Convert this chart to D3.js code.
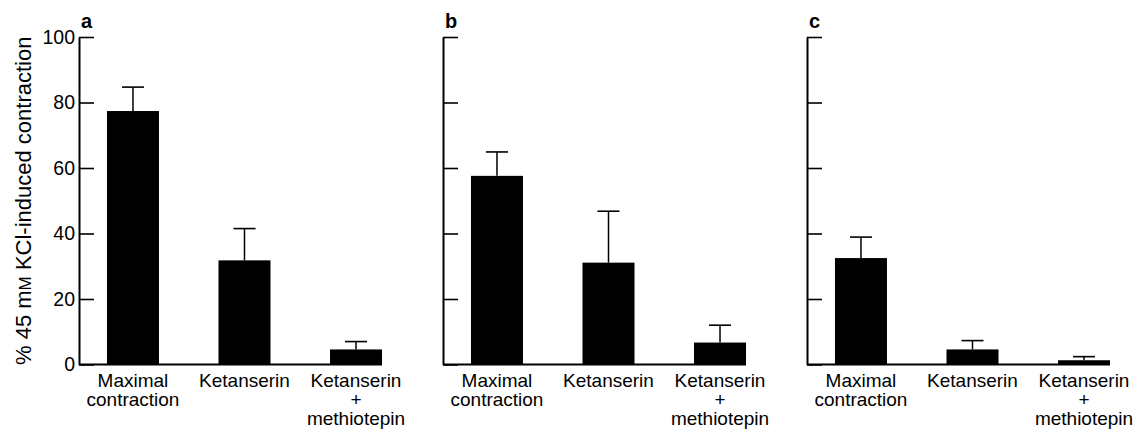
<!DOCTYPE html>
<html>
<head>
<meta charset="utf-8">
<script src="https://cdn.jsdelivr.net/npm/d3@7"></script>
<style>
  body { margin: 0; background: #fff; }
  text { font-family: "Liberation Sans", Arial, Helvetica, sans-serif; fill: #000; }
</style>
</head>
<body>
<script>
// data
var panelLabels = ["a", "b", "c"];
var categories = ["Maximal contraction", "Ketanserin", "Ketanserin + methiotepin"];
var categoryLines = [["Maximal", "contraction"], ["Ketanserin"], ["Ketanserin", "+", "methiotepin"]];
var yTicks = [0, 20, 40, 60, 80, 100];

var meansA = [77.4, 31.8, 4.6];
var semA = [7.3, 9.7, 2.4];
var meansB = [57.6, 31.1, 6.7];
var semB = [7.3, 15.7, 5.3];
var meansC = [32.5, 4.6, 1.3];
var semC = [6.4, 2.7, 1.1];

var means = [meansA, meansB, meansC];
var sems = [semA, semB, semC];

//Width and height
var w = 1137;
var h = 433;

var axis_left = 79;      // x of the first y axis
var panel_step = 364;    // distance between panels
var panel_width = 331;
var bar_width = 52;
var y_top = 37;
var y_bottom = 364.5;

var svg = d3.select("body")
	.append("svg")
	.attr("width", w)
	.attr("height", h);

var y = d3.scaleLinear()
	.domain([0, 100])
	.range([y_bottom, y_top]);

panelLabels.forEach(function(label, p) {

	var x0 = axis_left + p * panel_step;

	var x = d3.scalePoint()
		.domain(categories)
		.range([0, panel_width])
		.padding(0.484);

	var g = svg.append("g")
		.attr("transform", "translate(" + x0 + ",0)");

	var rows = categories.map(function(c, i) {
		return { cat: c, mean: means[p][i], sem: sems[p][i], lines: categoryLines[i] };
	});

	// Y AXIS (ticks point inwards)
	var yAxis = d3.axisLeft(y)
		.tickValues(yTicks)
		.tickSize(-15)
		.tickSizeOuter(0)
		.tickPadding(4);
	if (p > 0) yAxis.tickFormat("");

	var ay = g.append("g").call(yAxis);
	ay.select(".domain").attr("stroke", "#000").attr("stroke-width", 2);
	ay.selectAll(".tick line").attr("stroke", "#000").attr("stroke-width", 1.6);
	ay.selectAll(".tick text")
		.attr("font-family", "Liberation Sans, Arial, sans-serif")
		.attr("font-size", "19.5px")
		.attr("fill", "#000");

	// BASELINE
	g.append("line")
		.attr("x1", 0)
		.attr("x2", x(categories[2]) + bar_width / 2)
		.attr("y1", y(0))
		.attr("y2", y(0))
		.attr("stroke", "#000")
		.attr("stroke-width", 2);

	// ERROR BARS
	g.selectAll(".err")
		.data(rows)
		.enter()
		.append("line")
		.attr("class", "err")
		.attr("x1", function(d) { return x(d.cat); })
		.attr("x2", function(d) { return x(d.cat); })
		.attr("y1", function(d) { return y(d.mean); })
		.attr("y2", function(d) { return y(d.mean + d.sem); })
		.attr("stroke", "#000")
		.attr("stroke-width", 1.5);

	g.selectAll(".cap")
		.data(rows)
		.enter()
		.append("line")
		.attr("class", "cap")
		.attr("x1", function(d) { return x(d.cat) - 11; })
		.attr("x2", function(d) { return x(d.cat) + 11; })
		.attr("y1", function(d) { return y(d.mean + d.sem); })
		.attr("y2", function(d) { return y(d.mean + d.sem); })
		.attr("stroke", "#000")
		.attr("stroke-width", 1.6);

	// BARS
	g.selectAll(".bar")
		.data(rows)
		.enter()
		.append("rect")
		.attr("class", "bar")
		.attr("x", function(d) { return x(d.cat) - bar_width / 2; })
		.attr("width", bar_width)
		.attr("y", function(d) { return y(d.mean); })
		.attr("height", function(d) { return y(0) - y(d.mean); })
		.attr("fill", "#000");

	// CATEGORY LABELS
	var lab = g.selectAll(".catlabel")
		.data(rows)
		.enter()
		.append("text")
		.attr("class", "catlabel")
		.attr("text-anchor", "middle")
		.attr("font-size", "19px");

	lab.selectAll("tspan")
		.data(function(d) { return d.lines.map(function(t) { return { t: t, cx: x(d.cat) }; }); })
		.enter()
		.append("tspan")
		.attr("x", function(d) { return d.cx; })
		.attr("y", function(d, i) { return 387 + i * 19; })
		.text(function(d) { return d.t; });

	// PANEL LETTER
	g.append("text")
		.attr("x", 2)
		.attr("y", 28)
		.attr("font-size", "20px")
		.attr("font-weight", "bold")
		.text(label);
});

// Y AXIS TITLE
var title = svg.append("text")
	.attr("transform", "translate(31," + (y_bottom + y_top) / 2 + ") rotate(-90)")
	.attr("text-anchor", "middle")
	.attr("font-size", "22px");
title.append("tspan").text("% 45 m");
title.append("tspan").attr("font-size", "17px").text("M");
title.append("tspan").text(" KCl-induced contraction");
</script>
</body>
</html>
